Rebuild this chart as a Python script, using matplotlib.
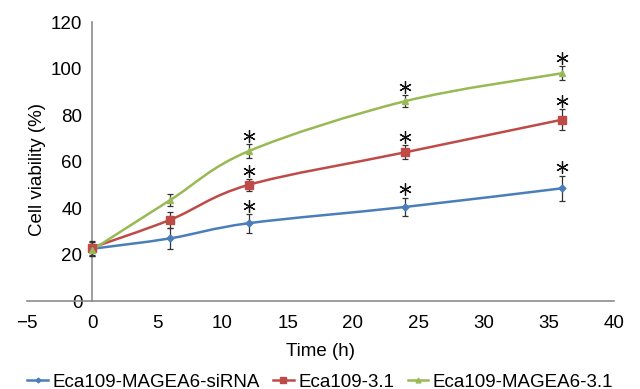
import numpy as np
import matplotlib
matplotlib.use("Agg")
import matplotlib.pyplot as plt
from matplotlib.path import Path
from matplotlib.patches import PathPatch

plt.rcParams['font.family'] = ['Liberation Sans', 'DejaVu Sans']

# data
hours = [0, 6, 12, 24, 36]
names = ['Eca109-MAGEA6-siRNA', 'Eca109-3.1', 'Eca109-MAGEA6-3.1']
sirna = [22.5, 27, 33.5, 40.5, 48.5]
sirna_err = [3, 4.5, 4, 4, 5.5]
ctrl = [23, 35, 50, 64, 78]
ctrl_err = [3, 3.5, 2.5, 3, 4.5]
over = [22, 43.5, 64.5, 86, 98]
over_err = [2.5, 2.5, 3, 2.5, 3]
star_from = 2  # asterisks from the 12 h point on

colors = ['#4a7ebb', '#be4b48', '#98b954']
markers = ['D', 's', '^']
msizes = [3.5, 6, 5]


def smooth_path(x, y, t=0.33):
	# bezier segments through the points, like the excel smoothed line
	x = np.asarray(x, float)
	y = np.asarray(y, float)
	verts = [(x[0], y[0])]
	codes = [Path.MOVETO]
	n = len(x)
	for i in range(n - 1):
		p0 = (x[i-1], y[i-1]) if i > 0 else (x[i], y[i])
		p3 = (x[i+2], y[i+2]) if i + 2 < n else (x[i+1], y[i+1])
		c1 = (x[i] + t * (x[i+1] - p0[0]) / 2, y[i] + t * (y[i+1] - p0[1]) / 2)
		c2 = (x[i+1] - t * (p3[0] - x[i]) / 2, y[i+1] - t * (p3[1] - y[i]) / 2)
		verts += [c1, c2, (x[i+1], y[i+1])]
		codes += [Path.CURVE4] * 3
	return Path(verts, codes)


fig = plt.figure(figsize=(6.4, 3.89), dpi=100)
ax = fig.add_axes([0.042, 0.226, 0.917, 0.717])

for vals, errs, c, m, ms in zip([sirna, ctrl, over], [sirna_err, ctrl_err, over_err],
		colors, markers, msizes):
	ax.add_patch(PathPatch(smooth_path(hours, vals), facecolor='none', edgecolor=c, lw=1.8))
	ax.errorbar(hours, vals, yerr=errs, fmt='none', ecolor='#333333', elinewidth=0.9,
		capsize=2.5, capthick=0.9, zorder=3)
	ax.plot(hours, vals, linestyle='none', color=c, marker=m, markersize=ms, zorder=4)
	sh = np.array(hours[star_from:])
	sy = np.array(vals[star_from:]) + np.array(errs[star_from:]) + 3.6
	ax.plot(sh, sy, linestyle='none', marker=(6, 2, 0), markersize=9,
		markeredgewidth=0.9, color='#111111', zorder=5)

handles = [plt.Line2D([], [], color=c, marker=m, markersize=ms * 0.7, lw=1.8)
	for c, m, ms in zip(colors, markers, msizes)]
ax.legend(handles, names, loc='center', bbox_to_anchor=(0.5, -0.29), ncol=3,
	frameon=False, fontsize=13.5, handlelength=1.1, columnspacing=0.7, handletextpad=0.25,
	borderaxespad=0, borderpad=0)

ax.set_xlim(-5, 40)
ax.set_ylim(0, 120)
ax.set_xticks(np.arange(-5, 41, 5))
ax.set_xticklabels(['\u22125'] + [str(v) for v in range(0, 41, 5)])
ax.set_yticks(np.arange(0, 121, 20))
ax.spines['left'].set_position(('data', 0))
ax.spines['bottom'].set_position(('data', 0))
ax.spines['top'].set_visible(False)
ax.spines['right'].set_visible(False)
for s in ['left', 'bottom']:
	ax.spines[s].set_color('#8c8c8c')
	ax.spines[s].set_linewidth(1.2)
ax.tick_params(axis='both', length=0, labelsize=13.5)
ax.tick_params(axis='y', pad=7)
ax.tick_params(axis='x', pad=10)
ax.set_xlabel('Time (h)', fontsize=13.5, labelpad=8)
ax.set_ylabel('Cell viability (%)', fontsize=13.5)
ax.yaxis.set_label_coords(0.033, 0.47)

fig.savefig('out.png', dpi=100)
